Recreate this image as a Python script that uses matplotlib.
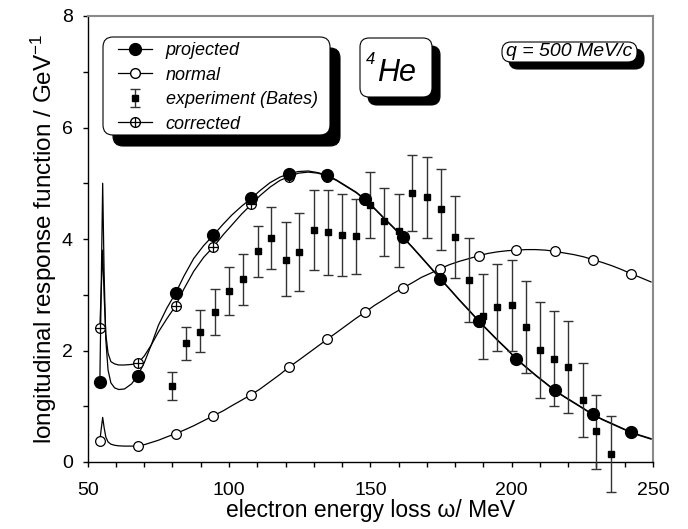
import matplotlib
matplotlib.use("Agg")
import matplotlib.pyplot as plt
from matplotlib.patches import FancyBboxPatch
from matplotlib.lines import Line2D
from matplotlib.transforms import Affine2D
import numpy as np

plt.rcParams['font.family'] = ['Liberation Sans', 'DejaVu Sans']
plt.rcParams['mathtext.fontset'] = 'custom'
plt.rcParams['mathtext.rm'] = 'Liberation Sans'
plt.rcParams['mathtext.it'] = 'Liberation Sans:italic'

# symbol positions (MeV) shared by the three calculations
sym_x = [54.3, 67.7, 81.1, 94.5, 107.9, 121.2, 134.7, 148.2, 161.5, 174.8, 188.4, 201.7, 215.2, 228.7, 242.1]
proj_y = [1.44, 1.55, 3.03, 4.07, 4.73, 5.17, 5.14, 4.71, 4.04, 3.29, 2.53, 1.85, 1.29, 0.855, 0.54]
norm_y = [0.38, 0.29, 0.51, 0.83, 1.21, 1.70, 2.20, 2.69, 3.12, 3.47, 3.70, 3.80, 3.78, 3.63, 3.38]
corr_y = [2.41, 1.77, 2.80, 3.86, 4.62, 5.12, 5.12, 4.70, 4.03, 3.28, 2.52, 1.84, 1.28, 0.85, 0.53]

# curves
curve_x = [54.3, 54.8, 55.3, 55.8, 56.4, 57.2, 58.2, 59.5, 61, 63, 65.5, 67.7, 70, 72.5, 75, 78,
           81.1, 84, 87.5, 91, 94.5, 98, 101, 104.5, 107.9, 111, 114.5, 118, 121.2, 124.5, 128,
           131.5, 134.7, 138, 141.5, 145, 148.2, 151.5, 155, 158, 161.5, 165, 168, 171.5, 174.8,
           178, 181.5, 185, 188.4, 191.5, 195, 198.5, 201.7, 205, 208.5, 212, 215.2, 218.5, 222,
           225.5, 228.7, 232, 235.5, 239, 242.1, 245.5, 249.3]
proj_curve = [1.44, 3.2, 5.0, 3.4, 2.2, 1.65, 1.42, 1.33, 1.30, 1.31, 1.40, 1.55, 1.78, 2.1, 2.45, 2.76,
              3.03, 3.33, 3.65, 3.88, 4.07, 4.27, 4.43, 4.59, 4.73, 4.87, 5.01, 5.11, 5.17, 5.21, 5.22,
              5.19, 5.14, 5.06, 4.95, 4.84, 4.71, 4.55, 4.37, 4.22, 4.04, 3.85, 3.68, 3.48, 3.29,
              3.11, 2.91, 2.72, 2.53, 2.37, 2.19, 2.02, 1.85, 1.71, 1.56, 1.42, 1.29, 1.18, 1.07,
              0.96, 0.855, 0.77, 0.69, 0.61, 0.54, 0.48, 0.42]
norm_curve = [0.38, 0.6, 0.80, 0.62, 0.45, 0.36, 0.32, 0.30, 0.29, 0.285, 0.285, 0.29, 0.31, 0.35, 0.39, 0.45,
              0.51, 0.57, 0.65, 0.74, 0.83, 0.92, 1.01, 1.11, 1.21, 1.31, 1.44, 1.57, 1.70, 1.82, 1.95,
              2.08, 2.20, 2.32, 2.45, 2.58, 2.69, 2.81, 2.92, 3.02, 3.12, 3.22, 3.31, 3.39, 3.47,
              3.54, 3.60, 3.65, 3.70, 3.74, 3.77, 3.79, 3.80, 3.81, 3.81, 3.80, 3.78, 3.75, 3.72,
              3.68, 3.63, 3.58, 3.52, 3.45, 3.38, 3.31, 3.23]
corr_curve = [2.41, 3.1, 3.8, 3.0, 2.3, 1.95, 1.80, 1.76, 1.74, 1.74, 1.75, 1.77, 1.9, 2.1, 2.33, 2.57,
              2.80, 3.1, 3.42, 3.67, 3.86, 4.08, 4.25, 4.45, 4.62, 4.78, 4.93, 5.05, 5.12, 5.18, 5.20,
              5.18, 5.13, 5.05, 4.94, 4.83, 4.70, 4.54, 4.36, 4.21, 4.03, 3.84, 3.67, 3.47, 3.28,
              3.10, 2.90, 2.71, 2.52, 2.36, 2.18, 2.01, 1.84, 1.70, 1.55, 1.41, 1.28, 1.17, 1.06,
              0.95, 0.85, 0.76, 0.68, 0.60, 0.53, 0.47, 0.41]

# Bates data
exp_x = [79.9, 84.8, 89.9, 94.9, 100.0, 105.0, 110.1, 115.0, 120.0, 124.9, 130.1, 135.0, 140.1, 145.0,
         150.0, 154.8, 160.1, 164.9, 170.0, 174.9, 180.0, 184.9, 190.0, 194.9, 200.0, 205.0, 210.1,
         215.0, 220.1, 225.1, 229.9, 235.1]
exp_y = [1.37, 2.13, 2.34, 2.69, 3.07, 3.28, 3.78, 4.02, 3.63, 3.77, 4.16, 4.13, 4.07, 4.05,
         4.61, 4.32, 4.15, 4.82, 4.75, 4.53, 4.04, 3.26, 2.61, 2.78, 2.81, 2.43, 2.01,
         1.85, 1.70, 1.11, 0.55, 0.14]
exp_hi = [1.62, 2.42, 2.72, 3.10, 3.49, 3.73, 4.24, 4.58, 4.30, 4.46, 4.87, 4.88, 4.81, 4.71,
          5.21, 4.92, 4.81, 5.51, 5.47, 5.26, 4.78, 4.01, 3.37, 3.56, 3.62, 3.25, 2.87,
          2.70, 2.53, 1.78, 1.21, 0.82]
exp_lo = [1.11, 1.83, 1.97, 2.28, 2.64, 2.82, 3.31, 3.46, 2.97, 3.07, 3.44, 3.35, 3.34, 3.38,
          4.01, 3.70, 3.49, 4.14, 4.02, 3.80, 3.30, 2.51, 1.84, 1.99, 2.00, 1.59, 1.15,
          1.00, 0.87, 0.45, -0.13, -0.54]

W, H = 688, 529
fig = plt.figure(figsize=(W / 100, H / 100), dpi=100)
ax = fig.add_axes([87.7 / W, 1 - 462 / H, (653 - 87.7) / W, (462 - 16) / H])
# pixel coordinates, origin at top left
pix = Affine2D().scale(1, -1).translate(0, H)

lw = 0.9
ax.plot(curve_x, norm_curve, color='black', lw=lw, zorder=2)
ax.plot(curve_x, corr_curve, color='black', lw=lw, zorder=2)
ax.plot(curve_x, proj_curve, color='black', lw=lw, zorder=2)

err = [np.array(exp_y) - np.array(exp_lo), np.array(exp_hi) - np.array(exp_y)]
eb = ax.errorbar(exp_x, exp_y, yerr=err, fmt='s', ms=5, color='black', ecolor='#333333',
                 elinewidth=1, capsize=3.6, capthick=1, clip_on=False, zorder=3)

ax.plot(sym_x, norm_y, 'o', ms=7, mfc='white', mec='black', mew=0.9, zorder=4)
ax.plot(sym_x, corr_y, 'o', ms=7, mfc='white', mec='black', mew=0.9, zorder=4)
ax.plot(sym_x, corr_y, '+', ms=7, mec='black', mew=0.9, zorder=4)
ax.plot(sym_x, proj_y, 'o', ms=8.5, mfc='black', mec='black', zorder=5)

ax.set_xlim(50, 250)
ax.set_ylim(0, 8)
ax.set_xticks(np.arange(50, 251, 50))
ax.set_xticks(np.arange(50, 251, 10), minor=True)
ax.set_yticks(np.arange(0, 9, 2))
ax.set_yticks(np.arange(0, 9, 1), minor=True)
ax.tick_params(which='both', direction='out', length=3.6, width=1, labelsize=14, top=False, right=False)
ax.tick_params(axis='y', pad=7)
ax.tick_params(axis='x', pad=11)
for s in ['left', 'bottom']:
    ax.spines[s].set_linewidth(1)
for s in ['top', 'right']:
    ax.spines[s].set_color('#8a8a8a')
    ax.spines[s].set_linewidth(1.5)

ax.set_xlabel('electron energy loss ω/ MeV', fontsize=16.5, labelpad=0)
ax.set_ylabel('longitudinal response function / GeV$^{-1}$', fontsize=17.5, labelpad=2)


def box(left, top, right, bottom, r, dx, dy):
    sh = FancyBboxPatch((left + dx, bottom + dy), right - left, top - bottom,
                        boxstyle='round,pad=0,rounding_size=%g' % r, transform=pix,
                        facecolor='black', edgecolor='black', lw=0.8, zorder=10)
    bx = FancyBboxPatch((left, bottom), right - left, top - bottom,
                        boxstyle='round,pad=0,rounding_size=%g' % r, transform=pix,
                        facecolor='white', edgecolor='black', lw=0.8, zorder=11)
    fig.add_artist(sh)
    fig.add_artist(bx)


# transform flips y, so "top" in pixels is the smaller number
box(103, 135, 330, 37, 10, 10, 11)
box(360, 97, 432, 38, 9, 8, 8)
box(502, 62, 637, 42, 9, 7, 7)

fig.text(371, 60, '4', transform=pix, fontsize=12, style='italic', ha='center', va='center', zorder=12)
fig.text(397, 73, 'He', transform=pix, fontsize=22, style='italic', ha='center', va='center', zorder=12)
fig.text(569, 52, 'q = 500 MeV/c', transform=pix, fontsize=14, style='italic', ha='center', va='center', zorder=12)

h_proj = Line2D([], [], color='black', lw=lw, marker='o', ms=8.5, mfc='black')
h_norm = Line2D([], [], color='black', lw=lw, marker='o', ms=7, mfc='white')
h_corr1 = Line2D([], [], color='black', lw=lw, marker='o', ms=7, mfc='white')
h_corr2 = Line2D([], [], color='black', lw=0, marker='+', ms=7, mew=0.9)
leg = fig.legend([h_proj, h_norm, eb, (h_corr1, h_corr2)],
                 ['projected', 'normal', 'experiment (Bates)', 'corrected'],
                 loc='upper left', bbox_to_anchor=(118 / W, 1 - 42 / H), bbox_transform=fig.transFigure,
                 frameon=False, fontsize=13, handlelength=1.9, handletextpad=0.75, labelspacing=0.42,
                 borderpad=0, borderaxespad=0)
for t in leg.get_texts():
    t.set_style('italic')
leg.set_zorder(13)

fig.savefig('out.png', dpi=100)
